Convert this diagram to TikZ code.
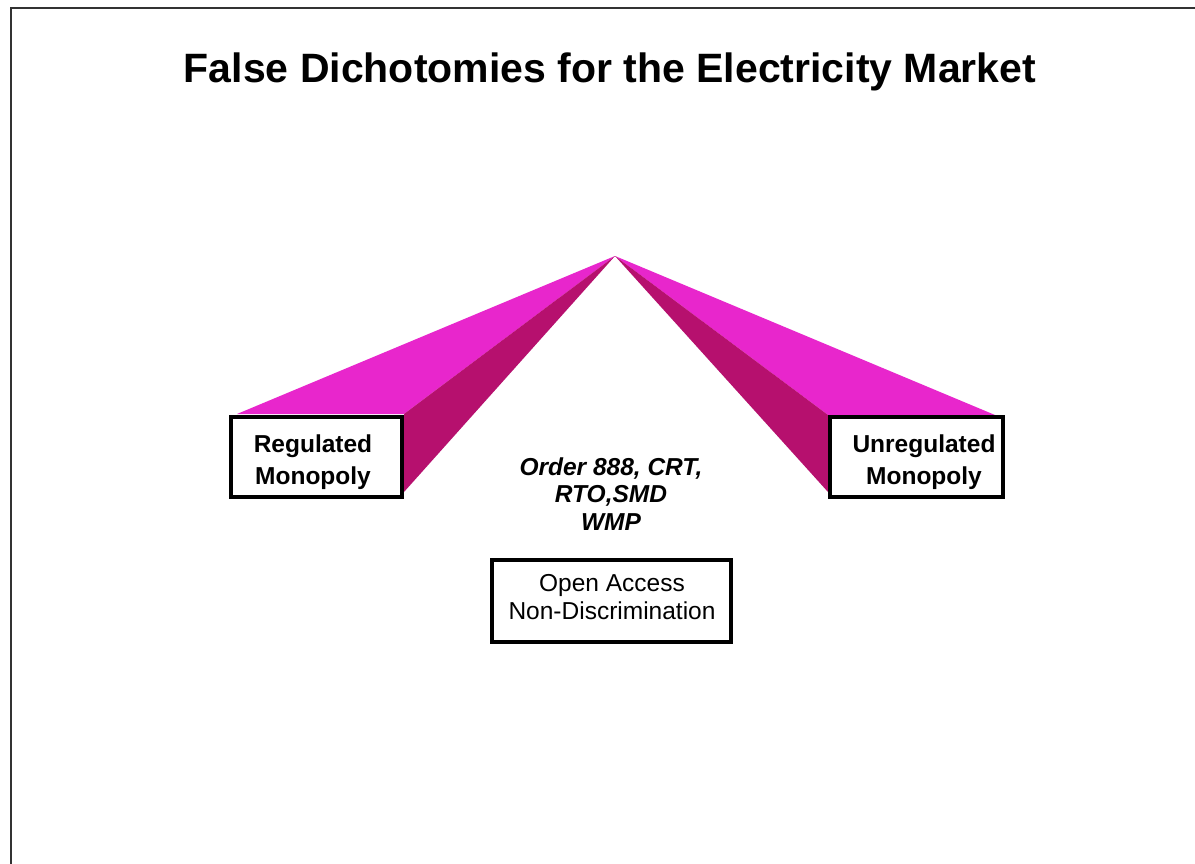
\documentclass[tikz,border=0pt]{standalone}
\usepackage{fontspec}
\setmainfont{Liberation Sans}
\definecolor{facelight}{RGB}{232,38,204}
\definecolor{facedark}{RGB}{182,16,110}
\definecolor{frame}{RGB}{50,50,50}
\tikzset{
  lightface/.style={fill=facelight, draw=none},
  darkface/.style={fill=facedark, draw=none},
  boxed/.style={draw=black, line width=4pt, fill=white, inner sep=0pt},
  boldtext/.style={font=\bfseries\fontsize{24.5}{31.5}\selectfont, align=center, inner sep=0pt},
  italtext/.style={font=\bfseries\itshape\fontsize{24.5}{27.5}\selectfont, align=center, inner sep=0pt},
  plaintext/.style={font=\fontsize{24.5}{28}\selectfont, align=center, inner sep=0pt},
}
\begin{document}
\begin{tikzpicture}[x=1pt,y=-1pt]
\useasboundingbox (0,0) rectangle (1195,864);
\fill[white] (0,0) rectangle (1195,864);
% page frame (only top and left visible)
\draw[frame, line width=2pt] (10.5,864) -- (10.5,8.5) -- (1195,8.5);

\node[font=\bfseries\fontsize{41}{48}\selectfont, inner sep=0pt] (title) at (610,72) {False Dichotomies for the Electricity Market};

\coordinate (apex) at (615,256);
% left wedge
\coordinate (lA) at (237,414);
\coordinate (lB) at (404,414);
\coordinate (lC) at (404,492);
\fill[lightface] (apex) -- (lA) -- (lB) -- cycle;
\fill[darkface] (apex) -- (lB) -- (lC) -- cycle;
% right wedge
\coordinate (rA) at (995,415);
\coordinate (rB) at (828,415);
\coordinate (rC) at (828,492);
\fill[lightface] (apex) -- (rA) -- (rB) -- cycle;
\fill[darkface] (apex) -- (rB) -- (rC) -- cycle;

% boxes
\node[boxed, minimum width=171pt, minimum height=80pt] (lbox) at (316.5,456.5) {};
\node[boldtext] (ltext) at (313,462) {Regulated\\Monopoly};
\node[boxed, minimum width=173pt, minimum height=80pt] (rbox) at (916.5,456.5) {};
\node[boldtext] (rtext) at (924,462) {Unregulated\\Monopoly};

\node[italtext] (mid) at (611,494) {Order 888, CRT,\\RTO,SMD\\WMP};

\node[boxed, minimum width=239pt, minimum height=82pt] (obox) at (611.5,601) {};
\node[plaintext] (otext) at (612,597.5) {Open Access\\Non-Discrimination};
\end{tikzpicture}
\end{document}
